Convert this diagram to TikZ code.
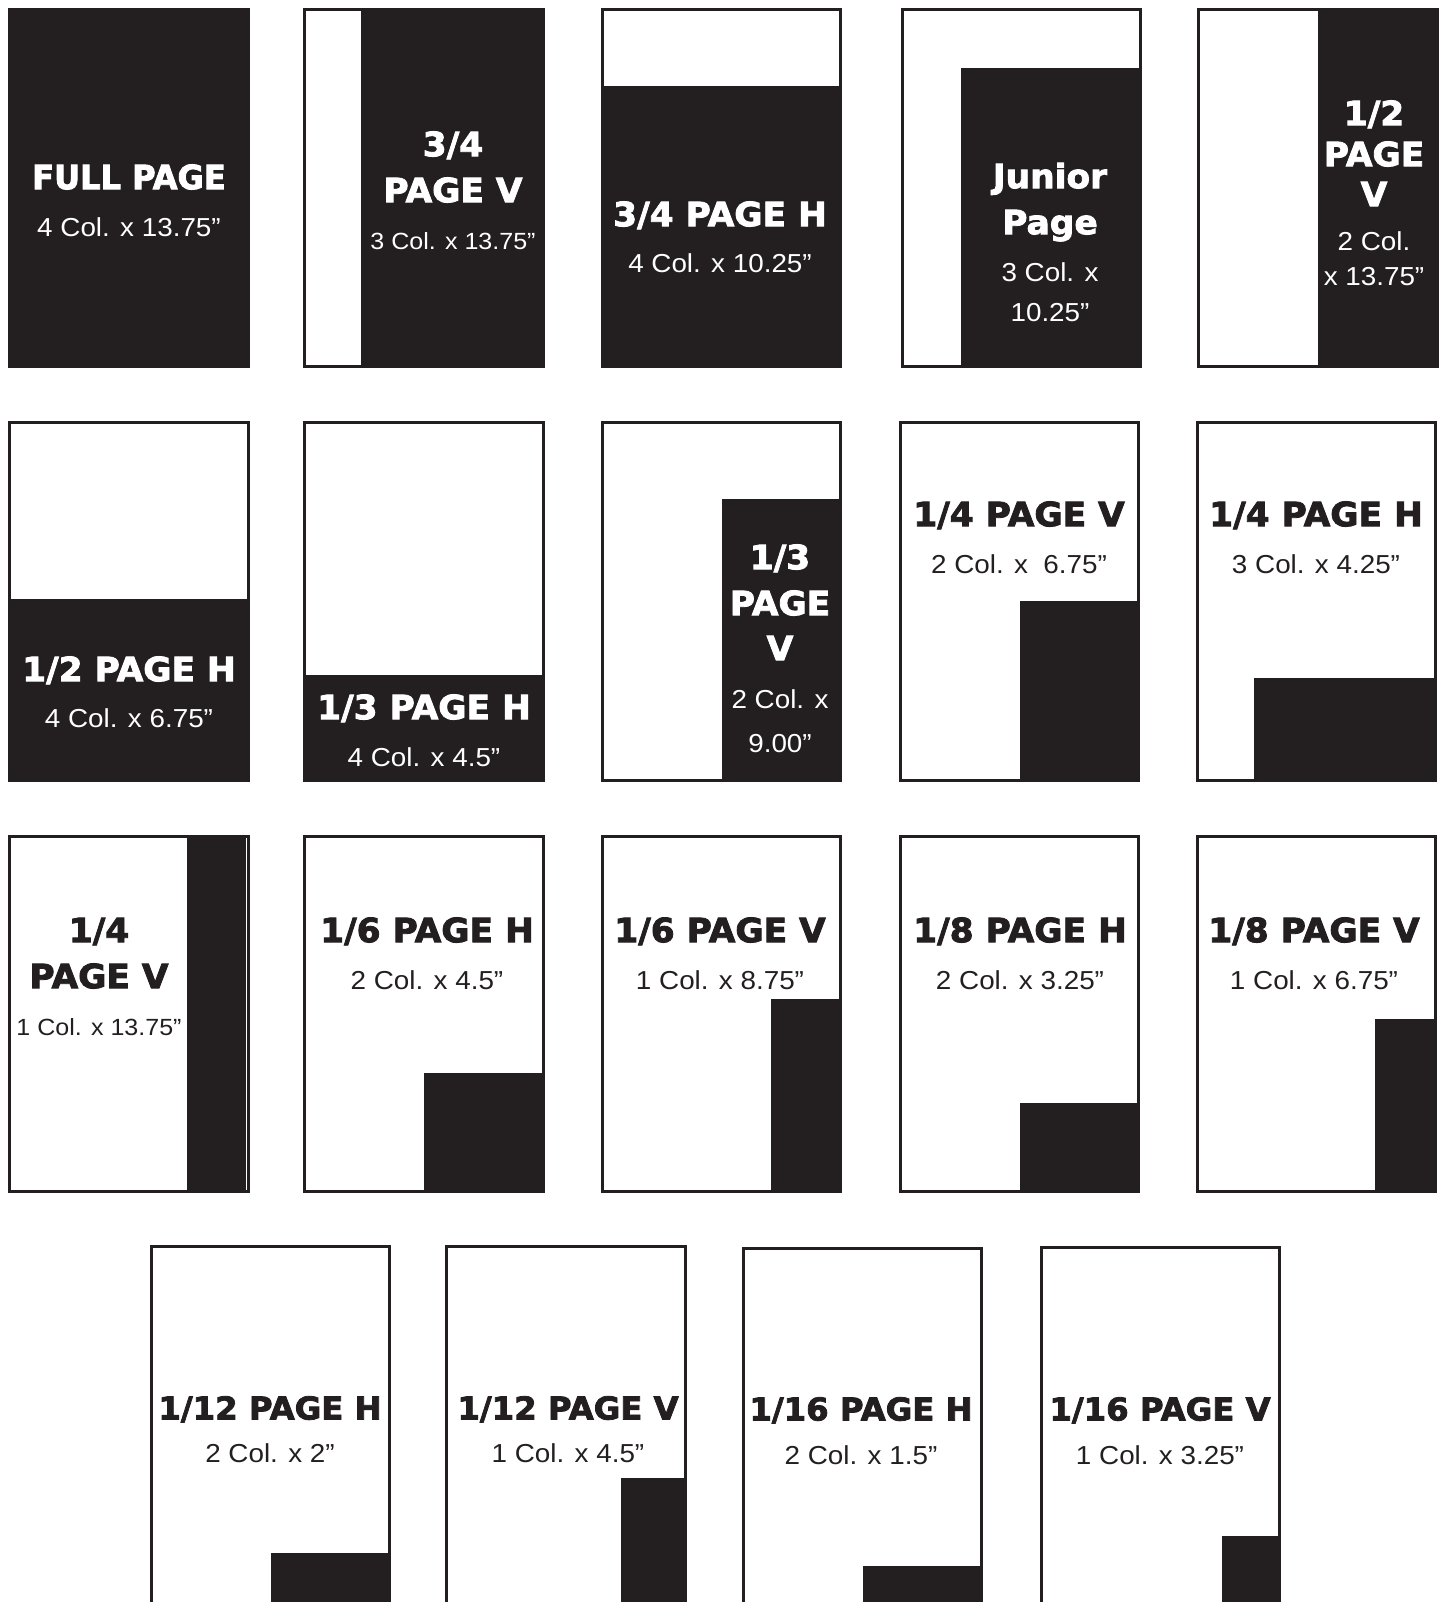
\documentclass[tikz,border=0pt]{standalone}
\usepackage{fontspec}
\newfontfamily\hfont{DejaVu Sans}[UprightFont={* Bold}, FakeStretch=1.03, FakeBold=2.5]
\newfontfamily\hfontn{DejaVu Sans}[UprightFont={* Bold}, FakeStretch=0.96, FakeBold=2.5]
\newfontfamily\rfont{Liberation Sans}[FakeStretch=1.07]
\definecolor{ink}{RGB}{35,31,32}
\newcommand\adframe[4]{\draw[frame] (#1+1.5,#2+1.5) rectangle (#3-1.5,#4-1.5);}
\newcommand\adblack[4]{\fill[ink] (#1,#2) rectangle (#3,#4);}
\begin{document}
\begin{tikzpicture}[x=0.5pt,y=-0.5pt,
  frame/.style={draw=ink,line width=1.5pt},
  head/.style={font=\hfont\fontsize{16.7}{19}\selectfont,inner sep=0pt,text height=12.17pt,text depth=0pt},
  headn/.style={font=\hfontn\fontsize{16.7}{19}\selectfont,inner sep=0pt,text height=12.17pt,text depth=0pt},
  heads/.style={font=\hfont\fontsize{15.7}{18}\selectfont,inner sep=0pt,text height=11.44pt,text depth=0pt},
  reg/.style={font=\rfont\fontsize{13}{15}\selectfont,inner sep=0pt,text height=9.31pt,text depth=0pt},
  regs/.style={font=\rfont\fontsize{11.7}{14}\selectfont,inner sep=0pt,text height=8.38pt,text depth=0pt},
  hw/.style={head,text=white}, hk/.style={head,text=ink},
  hnw/.style={headn,text=white},
  hsk/.style={heads,text=ink},
  rw/.style={reg,text=white}, rk/.style={reg,text=ink},
  rsw/.style={regs,text=white}, rsk/.style={regs,text=ink}]
\useasboundingbox (0,0) rectangle (1444,1602);
\fill[white] (0,0) rectangle (1444,1602);
\clip (0,0) rectangle (1444,1602);
% ---------- Row 1 ----------
\adblack{8}{8}{250}{368}\adframe{8}{8}{250}{368}
\adblack{361}{8}{545}{368}\adframe{303}{8}{545}{368}
\adblack{601}{86}{842}{368}\adframe{601}{8}{842}{368}
\adblack{961}{68}{1142}{368}\adframe{901}{8}{1142}{368}
\adblack{1318}{8}{1439}{368}\adframe{1197}{8}{1439}{368}
% ---------- Row 2 ----------
\adblack{8}{599}{250}{782}\adframe{8}{421}{250}{782}
\adblack{303}{675}{545}{782}\adframe{303}{421}{545}{782}
\adblack{722}{499}{842}{782}\adframe{601}{421}{842}{782}
\adblack{1020}{601}{1140}{782}\adframe{899}{421}{1140}{782}
\adblack{1254}{678}{1437}{782}\adframe{1196}{421}{1437}{782}
% ---------- Row 3 ----------
\adblack{187}{835}{246}{1193}\adframe{8}{835}{250}{1193}
\adblack{424}{1073}{545}{1193}\adframe{303}{835}{545}{1193}
\adblack{771}{999}{842}{1193}\adframe{601}{835}{842}{1193}
\adblack{1020}{1103}{1140}{1193}\adframe{899}{835}{1140}{1193}
\adblack{1375}{1019}{1437}{1193}\adframe{1196}{835}{1437}{1193}
% ---------- Row 4 ----------
\adblack{271}{1553}{391}{1620}\adframe{150}{1245}{391}{1620}
\adblack{621}{1478}{687}{1620}\adframe{445}{1245}{687}{1620}
\adblack{863}{1566}{983}{1620}\adframe{742}{1247}{983}{1620}
\adblack{1222}{1536}{1281}{1620}\adframe{1040}{1246}{1281}{1620}
% ---------- Texts row 1 ----------
\node[hnw] (a1) at (129,177) {FULL PAGE};
\node[rw] (a2) at (129,227) {4 Col. x 13.75”};
\node[hw] (b1) at (453,144) {3/4};
\node[hw] (b2) at (453,190) {PAGE V};
\node[rsw] (b3) at (453,241) {3 Col. x 13.75”};
\node[hw] (c1) at (720,214) {3/4 PAGE H};
\node[rw] (c2) at (720,263) {4 Col. x 10.25”};
\node[hw] (d1) at (1050,176) {Junior};
\node[hw] (d2) at (1050,222) {Page};
\node[rw] (d3) at (1050,272) {3 Col. x};
\node[rw] (d4) at (1050,312) {10.25”};
\node[hw] (e1) at (1374,113) {1/2};
\node[hw] (e2) at (1374,154) {PAGE};
\node[hw] (e3) at (1374,194) {V};
\node[rw] (e4) at (1374,241) {2 Col.};
\node[rw] (e5) at (1374,276) {x 13.75”};
% ---------- Texts row 2 ----------
\node[hw] (f1) at (129,669) {1/2 PAGE H};
\node[rw] (f2) at (129,718) {4 Col. x 6.75”};
\node[hw] (g1) at (424,707) {1/3 PAGE H};
\node[rw] (g2) at (424,757) {4 Col. x 4.5”};
\node[hw] (h1) at (780,557) {1/3};
\node[hw] (h2) at (780,603) {PAGE};
\node[hw] (h3) at (780,648) {V};
\node[rw] (h4) at (780,699) {2 Col. x};
\node[rw] (h5) at (780,743) {9.00”};
\node[hk] (i1) at (1019,514) {1/4 PAGE V};
\node[rk] (i2) at (1019,564) {2 Col. x~ 6.75”};
\node[hk] (j1) at (1316,514) {1/4 PAGE H};
\node[rk] (j2) at (1316,564) {3 Col. x 4.25”};
% ---------- Texts row 3 ----------
\node[hk] (k1) at (99,930) {1/4};
\node[hk] (k2) at (99,976) {PAGE V};
\node[rsk] (k3) at (99,1027) {1 Col. x 13.75”};
\node[hk] (l1) at (427,930) {1/6 PAGE H};
\node[rk] (l2) at (427,980) {2 Col. x 4.5”};
\node[hk] (m1) at (720,930) {1/6 PAGE V};
\node[rk] (m2) at (720,980) {1 Col. x 8.75”};
\node[hk] (n1) at (1020,930) {1/8 PAGE H};
\node[rk] (n2) at (1020,980) {2 Col. x 3.25”};
\node[hk] (o1) at (1314,930) {1/8 PAGE V};
\node[rk] (o2) at (1314,980) {1 Col. x 6.75”};
% ---------- Texts row 4 ----------
\node[hsk] (p1) at (270,1408) {1/12 PAGE H};
\node[rk] (p2) at (270,1453) {2 Col. x 2”};
\node[hsk] (q1) at (568,1408) {1/12 PAGE V};
\node[rk] (q2) at (568,1453) {1 Col. x 4.5”};
\node[hsk] (r1) at (861,1409) {1/16 PAGE H};
\node[rk] (r2) at (861,1455) {2 Col. x 1.5”};
\node[hsk] (s1) at (1160,1409) {1/16 PAGE V};
\node[rk] (s2) at (1160,1455) {1 Col. x 3.25”};
\end{tikzpicture}
\end{document}
